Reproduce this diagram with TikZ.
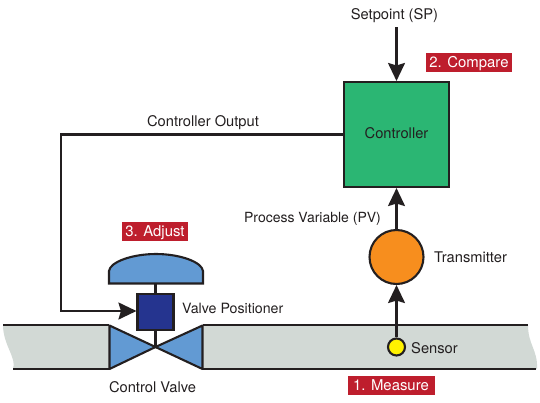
\documentclass[tikz,border=0pt]{standalone}
\usepackage{fontspec}
\setmainfont{TeX Gyre Heros}
\usetikzlibrary{arrows.meta}
\definecolor{ink}{HTML}{231F20}
\definecolor{pipe}{HTML}{D2D9D5}
\definecolor{valveblue}{HTML}{629AD3}
\definecolor{navy}{HTML}{25348F}
\definecolor{ctrl}{HTML}{2BB673}
\definecolor{tx}{HTML}{F78E1E}
\definecolor{badge}{HTML}{BE1E2D}
\tikzset{
 line/.style={draw=ink,line width=2.1pt},
 flow/.style={line,-{Stealth[length=18pt,width=17pt,inset=2.5pt]}},
 lbl/.style={text=ink,font=\fontsize{14.7}{16}\selectfont,inner sep=0pt,text height=10.5pt,text depth=0pt},
 tag/.style={fill=badge,text=white,font=\fontsize{14.9}{16}\selectfont,inner sep=0pt,text height=10.5pt,text depth=0pt,minimum height=19pt,anchor=center},
}
\begin{document}
\begin{tikzpicture}[x=1pt,y=-1pt]
\useasboundingbox (0,0) rectangle (540,402);
% pipe
\fill[pipe] (3,325) -- (109,325) -- (109,369) -- (13,369) .. controls (17,358) and (3,345) .. (3,325) -- cycle;
\fill[pipe] (203,325) -- (528,325) .. controls (528,345) and (538,350) .. (537,369) -- (203,369) -- cycle;
\draw[line] (3,325) -- (109,325);
\draw[line] (13,369) -- (109,369);
\draw[line] (203,325) -- (528,325);
\draw[line] (203,369) -- (536,369);
% valve
\coordinate (vc) at (155.5,347);
\filldraw[line,fill=valveblue,line join=round] (109.5,325.5) -- (vc) -- (109.5,369) -- cycle;
\filldraw[line,fill=valveblue,line join=round] (202.5,325.5) -- (vc) -- (202.5,369) -- cycle;
% actuator
\path[line,fill=valveblue] (109,283.5) -- (109,271) .. controls (110,262) and (132,254) .. (156,254) .. controls (180,254) and (202,262) .. (203,271) -- (203,283.5) -- cycle;
\coordinate (act) at (155.5,283.5);
\node[line,fill=navy,minimum width=36pt,minimum height=36pt,inner sep=0pt] (pos) at (155.5,312) {};
\draw[line] (act) -- (pos.north);
\draw[line] (pos.south) -- (vc);
% controller, transmitter, sensor
\node[line,fill=ctrl,minimum width=105pt,minimum height=105pt,inner sep=0pt] (controller) at (396.5,134.5) {};
\node[lbl] (lctl) at (396.5,133) {Controller};
\node[line,circle,fill=tx,minimum size=54pt,inner sep=0pt] (trans) at (396.5,257) {};
\node[line,circle,fill=yellow,minimum size=17pt,inner sep=0pt] (sensor) at (396.5,347) {};
\coordinate (sp) at (396.5,27);
\coordinate (corner1) at (61,134.5);
\coordinate (corner2) at (61,311);
\draw[flow] (sp) -- (controller.north);
\draw[flow] (trans.north) -- (controller.south);
\draw[flow] (sensor.north) -- (trans.south);
\draw[flow] (controller.west) -- (corner1) -- (corner2) -- (pos.west |- corner2);
% labels
\node[lbl] (lsp) at (394.5,14) {Setpoint (SP)};
\node[lbl] (lco) at (203,121) {Controller Output};
\node[lbl,font=\fontsize{14}{16}\selectfont] (lpv) at (312.5,217) {Process Variable (PV)};
\node[lbl,anchor=west] (ltx) at (434,257) {Transmitter};
\node[lbl,anchor=west,font=\fontsize{14.2}{16}\selectfont] (lvp) at (182,308) {Valve Positioner};
\node[lbl,anchor=west] (lse) at (411,348) {Sensor};
\node[lbl] (lcv) at (152.5,387) {Control Valve};
\node[tag,minimum width=86pt] (t2) at (469,62.5) {2. Compare};
\node[tag,minimum width=66pt] (t3) at (155,231) {3. Adjust};
\node[tag,minimum width=87pt] (t1) at (391,385.5) {1. Measure};
\end{tikzpicture}
\end{document}
